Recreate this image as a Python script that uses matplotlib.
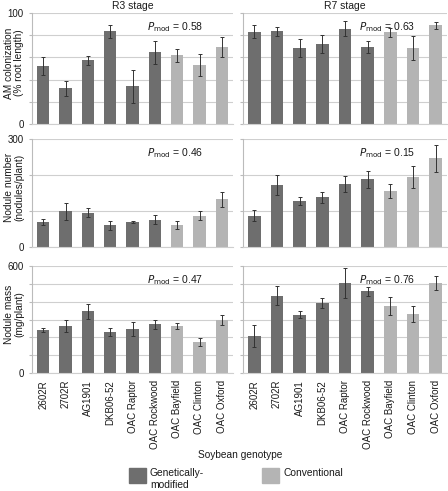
import matplotlib
matplotlib.use("Agg")
import matplotlib.pyplot as plt
import matplotlib.patches as mpatches
import numpy as np

plt.rcParams['font.family'] = ['Liberation Sans', 'DejaVu Sans']

genotypes = ["2602R", "2702R", "AG1901", "DKB06-52", "OAC Raptor",
             "OAC Rockwood", "OAC Bayfield", "OAC Clinton", "OAC Oxford"]
is_gm = [True, True, True, True, True, True, False, False, False]

# AM colonization (% root length)
am_r3 = [52, 32, 57.5, 83.5, 34, 64.5, 62, 53.3, 69.6]
am_r3_err = [8, 7, 4, 6, 15, 10.5, 6, 10, 9]
am_r7 = [83.3, 83.6, 68.7, 72, 86, 69.3, 82.7, 68.7, 88.8]
am_r7_err = [5.5, 4, 8, 8, 6.5, 5.5, 4, 11, 3.5]

# nodule number (nodules/plant)
nn_r3 = [70, 99, 95, 60, 70, 76, 61, 87, 132]
nn_r3_err = [8, 24, 12, 13, 3, 13, 11, 13, 21]
nn_r7 = [87, 173, 129, 138, 174, 188, 155, 195, 246]
nn_r7_err = [16, 28, 11, 15, 22, 23, 20, 30, 37]

# nodule mass (mg/plant)
nm_r3 = [240, 264, 345, 230, 247, 273, 264, 173, 297]
nm_r3_err = [12, 33, 40, 22, 37, 26, 16, 23, 27]
nm_r7 = [207, 434, 327, 393, 506, 459, 378, 331, 506]
nm_r7_err = [60, 52, 19, 27, 85, 25, 50, 45, 40]

p_mod = [["0.58", "0.63"], ["0.46", "0.15"], ["0.47", "0.76"]]
stages = ["R3 stage", "R7 stage"]
ylabels = ["AM colonization\n(% root length)", "Nodule number\n(nodules/plant)",
           "Nodule mass\n(mg/plant)"]
ymax = [100, 300, 600]
ystep = [20, 100, 100]

data = [[(am_r3, am_r3_err), (am_r7, am_r7_err)],
        [(nn_r3, nn_r3_err), (nn_r7, nn_r7_err)],
        [(nm_r3, nm_r3_err), (nm_r7, nm_r7_err)]]

GM_COL = "#6e6e6e"
CONV_COL = "#b4b4b4"
GRID_COL = "#cfcfcf"
TXT = "#1a1a1a"

W, H = 448, 491
fig = plt.figure(figsize=(W / 100, H / 100), dpi=100)

col_x = [(32, 201), (243, 204)]
row_y = [(13, 124), (139, 247), (266, 373)]

colors = [GM_COL if g else CONV_COL for g in is_gm]
x = np.arange(len(genotypes))

for r in range(3):
    for c in range(2):
        x0, w = col_x[c]
        yt, yb = row_y[r]
        ax = fig.add_axes([x0 / W, 1 - yb / H, w / W, (yb - yt) / H])
        vals, errs = data[r][c]
        ax.bar(x, vals, width=0.55, color=colors, zorder=2)
        ax.errorbar(x, vals, yerr=errs, fmt='none', ecolor="#333333",
                    elinewidth=0.7, capsize=1.5, capthick=0.7, zorder=3)
        ax.set_xlim(-0.5, len(genotypes) - 0.5)
        ax.set_ylim(0, ymax[r])
        ticks = np.arange(0, ymax[r] + 1, ystep[r])
        ax.set_yticks(ticks)
        ax.yaxis.grid(True, color=GRID_COL, linewidth=0.8, zorder=0)
        ax.set_axisbelow(True)
        for s in ["top", "right"]:
            ax.spines[s].set_visible(False)
        ax.spines["left"].set_color("#bbbbbb")
        ax.spines["bottom"].set_color(GRID_COL)
        ax.tick_params(axis='y', length=2, color="#bbbbbb", labelsize=7,
                       labelcolor=TXT, pad=4)
        ax.tick_params(axis='x', length=0, labelsize=7, labelcolor=TXT, pad=5)
        if c == 0:
            ax.set_yticklabels([str(t) if t in (0, ymax[r]) else "" for t in ticks])
            ax.set_ylabel(ylabels[r], fontsize=7.3, color=TXT, linespacing=1.0)
            ax.yaxis.set_label_coords(-0.04, 0.55)
        else:
            ax.set_yticklabels([])
        if r == 2:
            ax.set_xticks(x)
            ax.set_xticklabels(genotypes, rotation=90)
        else:
            ax.set_xticks([])
        if r == 0:
            ax.set_title(stages[c], fontsize=7.5, color=TXT, pad=3)
        ax.text(0.57, 0.87, r"$P_{\mathrm{mod}}$ = " + p_mod[r][c],
                transform=ax.transAxes, fontsize=7.5, color=TXT, va='center')

fig.text(240 / W, 1 - 455 / H, "Soybean genotype", ha='center', va='center',
         fontsize=7.3, color=TXT)

# legend, drawn by hand so the wrapped label hangs below its swatch
legend_items = [(GM_COL, "Genetically-\nmodified", 129), (CONV_COL, "Conventional", 262)]
for col, label, px in legend_items:
    fig.add_artist(mpatches.Rectangle((px / W, 1 - 483 / H), 17 / W, 15 / H,
                                      transform=fig.transFigure, color=col))
    fig.text((px + 21) / W, 1 - 468 / H, label, ha='left', va='top',
             fontsize=7.4, color=TXT, linespacing=1.2)

fig.savefig("out.png", dpi=100)
